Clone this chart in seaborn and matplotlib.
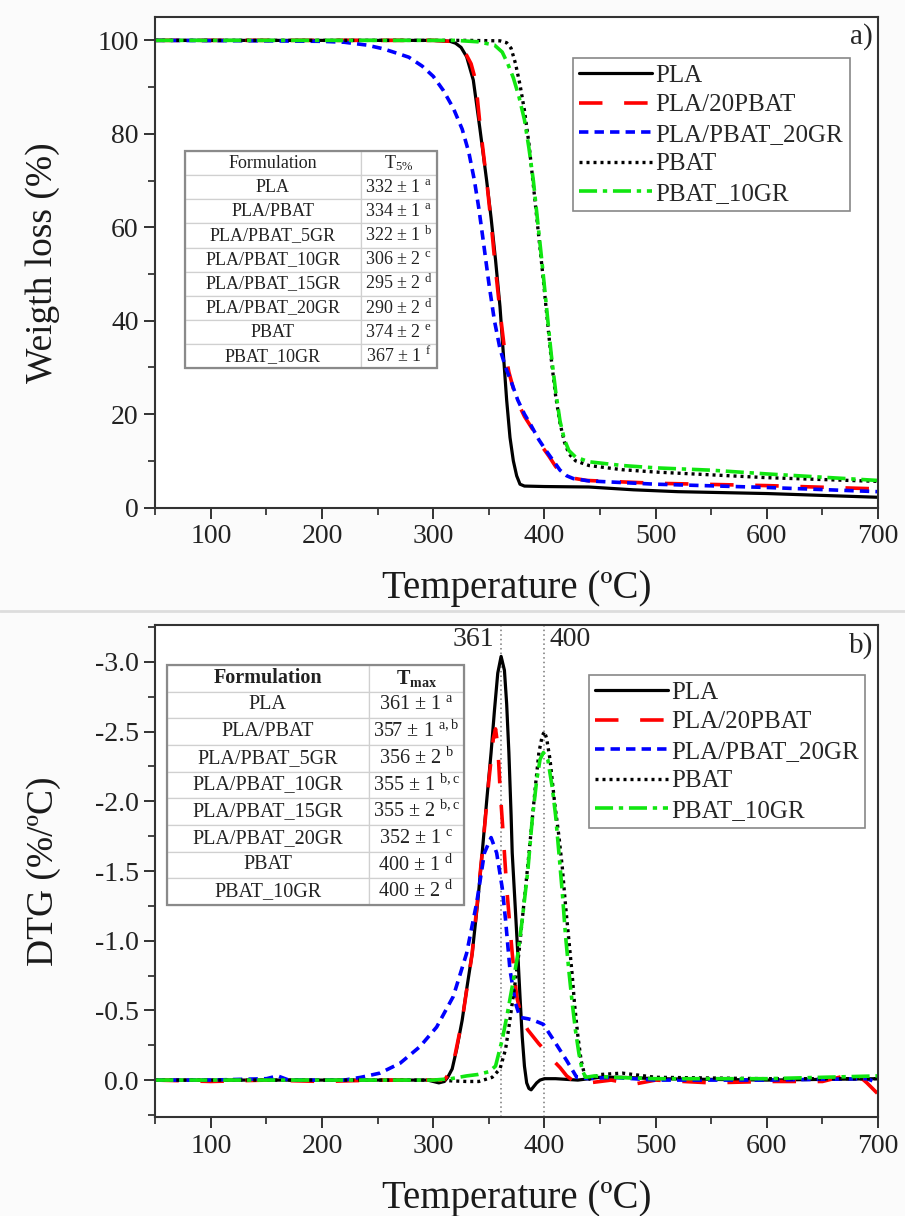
import numpy as np
import pandas as pd
import matplotlib
matplotlib.use("Agg")
import matplotlib.pyplot as plt
import seaborn as sns
from matplotlib.patches import Rectangle
from matplotlib.ticker import MultipleLocator
from matplotlib.lines import Line2D

# ---------------- data ----------------
series_names = ["PLA", "PLA/20PBAT", "PLA/PBAT_20GR", "PBAT", "PBAT_10GR"]

# TGA (weight %) ------------------------------------------------------
tga_pla_T = [50, 150, 250, 300, 315, 320, 325, 330, 336, 342, 348, 352, 356, 360, 363, 366, 369, 372, 375, 378, 382, 400, 440, 480, 520, 600, 650, 700]
tga_pla_W = [100, 100, 100, 100, 99.8, 99.4, 98.5, 96.5, 91.5, 81, 70, 62, 53, 43, 33, 23, 15, 10, 6.8, 5.0, 4.6, 4.5, 4.4, 3.8, 3.4, 3.0, 2.6, 2.2]

tga_blend_T = [50, 150, 250, 300, 315, 320, 325, 330, 334, 338, 342, 348, 352, 356, 360, 364, 368, 372, 376, 382, 390, 398, 404, 410, 416, 423, 438, 500, 600, 700]
tga_blend_W = [100, 100, 100, 100, 99.8, 99.4, 98.5, 96.8, 95, 91.5, 82, 70, 61, 51, 42, 34, 29, 25.5, 22.5, 19.5, 16.5, 13, 11, 8.8, 7.2, 6.4, 5.8, 5.2, 4.7, 4.0]

tga_gr20_T = [50, 150, 200, 220, 240, 255, 268, 278, 290, 300, 309, 318, 326, 332, 337, 341, 345, 350, 355, 360, 365, 370, 376, 382, 387, 395, 402, 408, 414, 420, 426, 440, 500, 600, 700]
tga_gr20_W = [100, 99.9, 99.8, 99.6, 99.0, 98.2, 97.2, 96.4, 94.5, 92.3, 89.3, 85.5, 81, 76, 70, 64, 57, 48, 40, 34, 30, 27, 23, 20, 18, 14.5, 12, 10, 8, 6.8, 6.2, 5.7, 5.0, 4.3, 3.4]

tga_pbat_T = [50, 150, 250, 330, 360, 366, 370, 374, 378, 382, 386, 390, 394, 398, 402, 406, 410, 414, 418, 422, 428, 440, 470, 500, 550, 600, 650, 700]
tga_pbat_W = [100, 100, 100, 100, 99.9, 99.5, 98.3, 95, 90.5, 85, 78, 69, 60, 51, 41.5, 32, 24, 18, 14, 11.5, 10, 9, 8.1, 7.6, 7.0, 6.4, 6.0, 5.6]

tga_pbatgr_T = [50, 150, 250, 320, 340, 355, 362, 367, 372, 377, 382, 386, 390, 394, 398, 402, 406, 410, 414, 418, 422, 428, 440, 470, 500, 550, 600, 650, 700]
tga_pbatgr_W = [100, 100, 100, 100, 99.7, 99.0, 97.5, 95, 92, 88, 83, 77, 70, 61, 52, 42.5, 33, 25, 18.5, 14.5, 12.2, 10.8, 9.8, 9.0, 8.5, 8.0, 7.2, 6.5, 5.8]

# DTG (%/ºC) ----------------------------------------------------------
dtg_pla_T = [50, 100, 150, 200, 250, 295, 305, 310, 313, 317, 321, 326, 330, 335, 340, 344, 348, 352, 355, 358, 361, 364, 366, 368, 370, 371, 374, 376, 378, 380, 382, 384, 386, 388, 390, 393, 396, 400, 410, 430, 450, 470, 500, 600, 700]
dtg_pla_D = [0, 0, 0, 0, 0, 0, 0.02, 0.01, -0.02, -0.08, -0.22, -0.43, -0.65, -0.91, -1.28, -1.63, -2.0, -2.35, -2.65, -2.92, -3.04, -2.94, -2.7, -2.35, -1.9, -1.63, -1.2, -0.91, -0.6, -0.31, -0.1, 0.02, 0.06, 0.07, 0.05, 0.02, 0.0, -0.01, -0.01, 0.0, -0.02, -0.02, -0.01, 0.0, -0.01]

dtg_blend_T = [50, 100, 150, 200, 250, 300, 310, 317, 326, 335, 344, 350, 354, 356, 358, 360, 363, 366, 371, 375, 380, 385, 390, 395, 402, 408, 414, 420, 425, 440, 460, 480, 500, 550, 600, 650, 670, 680, 690, 700]
dtg_blend_D = [0, 0.01, 0, 0.01, 0, 0, 0.0, -0.08, -0.43, -0.91, -1.63, -2.15, -2.45, -2.52, -2.4, -2.1, -1.75, -1.38, -0.91, -0.6, -0.43, -0.36, -0.31, -0.26, -0.2, -0.14, -0.09, -0.03, 0.0, 0.02, 0.0, 0.03, 0.0, 0.02, 0.01, 0.01, -0.03, -0.05, 0.02, 0.1]

dtg_gr20_T = [50, 100, 150, 160, 170, 200, 220, 235, 252, 270, 288, 303, 318, 330, 339, 346, 352, 357, 362, 365, 369, 374, 378, 385, 390, 399, 408, 420, 429, 440, 460, 500, 600, 690, 700]
dtg_gr20_D = [0, 0, -0.01, -0.03, 0.0, 0.0, 0.0, -0.02, -0.05, -0.12, -0.24, -0.38, -0.6, -0.91, -1.27, -1.63, -1.74, -1.63, -1.38, -1.15, -0.79, -0.55, -0.45, -0.44, -0.43, -0.40, -0.29, -0.14, -0.02, -0.01, -0.02, 0.0, 0.0, -0.01, 0.02]

dtg_pbat_T = [50, 150, 250, 300, 330, 341, 353, 360, 365, 368, 371, 374, 377, 380, 383, 386, 389, 392, 395, 398, 400, 402, 405, 409, 413, 416, 419, 422, 425, 427, 430, 433, 436, 438, 450, 470, 480, 500, 600, 700]
dtg_pbat_D = [0, 0, 0, 0, 0.01, 0.01, -0.02, -0.08, -0.22, -0.38, -0.55, -0.72, -0.91, -1.15, -1.38, -1.62, -1.87, -2.12, -2.35, -2.47, -2.5, -2.45, -2.3, -2.0, -1.75, -1.53, -1.25, -1.0, -0.75, -0.55, -0.32, -0.14, -0.04, 0.0, -0.04, -0.05, -0.04, -0.02, -0.01, -0.01]

dtg_pbatgr_T = [50, 150, 250, 300, 316, 330, 340, 350, 356, 362, 366, 371, 376, 380, 385, 389, 393, 396, 399, 403, 407, 410, 413, 416, 419, 422, 425, 428, 431, 434, 437, 445, 460, 500, 600, 700]
dtg_pbatgr_D = [0, 0, 0, 0, -0.01, -0.03, -0.04, -0.06, -0.1, -0.29, -0.45, -0.67, -0.9, -1.15, -1.5, -1.87, -2.15, -2.3, -2.35, -2.3, -2.1, -1.9, -1.63, -1.35, -1.03, -0.78, -0.55, -0.35, -0.19, -0.07, -0.02, -0.03, -0.02, -0.01, -0.01, -0.03]

# tables --------------------------------------------------------------
formulations = ["PLA", "PLA/PBAT", "PLA/PBAT_5GR", "PLA/PBAT_10GR", "PLA/PBAT_15GR", "PLA/PBAT_20GR", "PBAT", "PBAT_10GR"]
t5_values = ["332 ± 1", "334 ± 1", "322 ± 1", "306 ± 2", "295 ± 2", "290 ± 2", "374 ± 2", "367 ± 1"]
t5_letters = ["a", "a", "b", "c", "d", "d", "e", "f"]
tmax_values = ["361 ± 1", "357 ± 1", "356 ± 2", "355 ± 1", "355 ± 2", "352 ± 1", "400 ± 1", "400 ± 2"]
tmax_letters = ["a", "a,b", "b", "b,c", "b,c", "c", "d", "d"]
peak_marks = [361, 400]

# ---------------- style ----------------
colors = ["black", "#ff0000", "#0000ff", "black", "#11e611"]
styles = ["-", (0, (6.5, 6.0)), (0, (2.6, 1.7)), (0, (0.9, 1.2)), (0, (5, 1.6, 1.2, 1.6))]
widths = [2.3, 2.6, 2.6, 2.4, 2.6]

sns.set_theme(style="ticks")
plt.rcParams["font.family"] = ["Liberation Serif", "DejaVu Serif"]
plt.rcParams["mathtext.fontset"] = "custom"
plt.rcParams["mathtext.rm"] = "Liberation Serif"
plt.rcParams["mathtext.it"] = "Liberation Serif:italic"
plt.rcParams["mathtext.bf"] = "Liberation Serif:bold"

fig = plt.figure(figsize=(9.05, 12.16), dpi=100)
fig.patch.set_facecolor("#fbfbfb")
ax1 = fig.add_axes([0.1716, 0.5826, 0.7986, 0.4034])
ax2 = fig.add_axes([0.1716, 0.0814, 0.7986, 0.4046])

tga = [(tga_pla_T, tga_pla_W), (tga_blend_T, tga_blend_W), (tga_gr20_T, tga_gr20_W),
       (tga_pbat_T, tga_pbat_W), (tga_pbatgr_T, tga_pbatgr_W)]
dtg = [(dtg_pla_T, dtg_pla_D), (dtg_blend_T, dtg_blend_D), (dtg_gr20_T, dtg_gr20_D),
       (dtg_pbat_T, dtg_pbat_D), (dtg_pbatgr_T, dtg_pbatgr_D)]

for ax, sets in ((ax1, tga), (ax2, dtg)):
    ax.set_facecolor("white")
    for name, (xs, ys), c, ls, lw in zip(series_names, sets, colors, styles, widths):
        df = pd.DataFrame({"T": xs, "v": ys})
        sns.lineplot(data=df, x="T", y="v", ax=ax, color=c, linestyle=ls, linewidth=lw,
                     label=name, estimator=None, sort=False)

# axes limits / ticks
for ax in (ax1, ax2):
    ax.set_xlim(50, 700)
    ax.xaxis.set_major_locator(MultipleLocator(100))
    ax.xaxis.set_minor_locator(MultipleLocator(50))
    ax.tick_params(axis="both", which="major", direction="out", length=8, width=1.3,
                   labelsize=20, colors="#222222", pad=4)
    ax.tick_params(axis="both", which="minor", direction="out", length=5, width=1.2)
    ax.tick_params(top=False, right=False)
    for s in ax.spines.values():
        s.set_color("#333333")
        s.set_linewidth(1.5)
    ax.set_xlabel("Temperature (ºC)", fontsize=28, labelpad=15, color="#1a1a1a")
    ax.grid(False)

ax1.set_ylim(0, 105)
ax1.yaxis.set_major_locator(MultipleLocator(20))
ax1.yaxis.set_minor_locator(MultipleLocator(10))
ax1.set_ylabel("Weigth loss (%)", fontsize=27, labelpad=27, color="#1a1a1a")

ax2.set_ylim(0.265, -3.265)
ax2.yaxis.set_major_locator(MultipleLocator(0.5))
ax2.yaxis.set_minor_locator(MultipleLocator(0.25))
ax2.yaxis.set_major_formatter(matplotlib.ticker.FormatStrFormatter("%.1f"))
ax2.set_ylabel("DTG (%/ºC)", fontsize=27, labelpad=24, color="#1a1a1a")

for xm in peak_marks:
    ax2.axvline(xm, color="#777777", linestyle=(0, (1, 2)), linewidth=1.1, zorder=1)
ax2.text(354.5, -3.16, str(peak_marks[0]), ha="right", va="center", fontsize=20)
ax2.text(404.5, -3.16, str(peak_marks[1]), ha="left", va="center", fontsize=20)

ax1.text(0.993, 0.961, "a)", transform=ax1.transAxes, ha="right", va="center", fontsize=21)
ax2.text(0.993, 0.959, "b)", transform=ax2.transAxes, ha="right", va="center", fontsize=21)

# legends
for ax, anchor in ((ax1, (0.578, 0.916)), (ax2, (0.600, 0.898))):
    leg = ax.legend(loc="upper left", bbox_to_anchor=anchor, borderaxespad=0,
                    fontsize=18, frameon=True, fancybox=False, framealpha=1,
                    edgecolor="#888888", handlelength=2.9, handletextpad=0.15,
                    labelspacing=0.28, borderpad=0.25)
    leg.get_frame().set_linewidth(1.2)

# tables
def draw_table(ax, header, rows, bbox, colw, fs, bold_header, left_second):
    tab = ax.table(cellText=rows, colLabels=header, colWidths=colw, bbox=bbox,
                   cellLoc="center")
    tab.auto_set_font_size(False)
    tab.set_fontsize(fs)
    for (r, c), cell in tab.get_celld().items():
        cell.set_edgecolor("#d0d0d0")
        cell.set_linewidth(0.9)
        cell.set_facecolor("white")
        cell.get_text().set_color("#222222")
        if r == 0 and bold_header:
            cell.get_text().set_fontweight("bold")
        if c == 1 and left_second and r > 0:
            cell._loc = "left"
            cell.PAD = 0.06
    ax.add_patch(Rectangle((bbox[0], bbox[1]), bbox[2], bbox[3], transform=ax.transAxes,
                           fill=False, edgecolor="#8a8a8a", linewidth=1.6, zorder=5))
    return tab

rows1 = [[f, v + r" $^{\mathrm{" + l + "}}$"] for f, v, l in zip(formulations, t5_values, t5_letters)]
draw_table(ax1, ["Formulation", r"T$_{5\%}$"], rows1,
           [0.041, 0.284, 0.3485, 0.443], [0.2435, 0.105], 13, False, True)

rows2 = [[f, v + r" $^{\mathrm{" + l + "}}$"] for f, v, l in zip(formulations, tmax_values, tmax_letters)]
draw_table(ax2, ["Formulation", r"$\mathbf{T_{max}}$"], rows2,
           [0.016, 0.431, 0.4105, 0.488], [0.2795, 0.131], 14.5, True, False)

fig.add_artist(Line2D([0, 1], [1 - 611 / 1216, 1 - 611 / 1216], color="#dddddd", linewidth=2))

fig.savefig("out.png", dpi=100, facecolor=fig.get_facecolor())
